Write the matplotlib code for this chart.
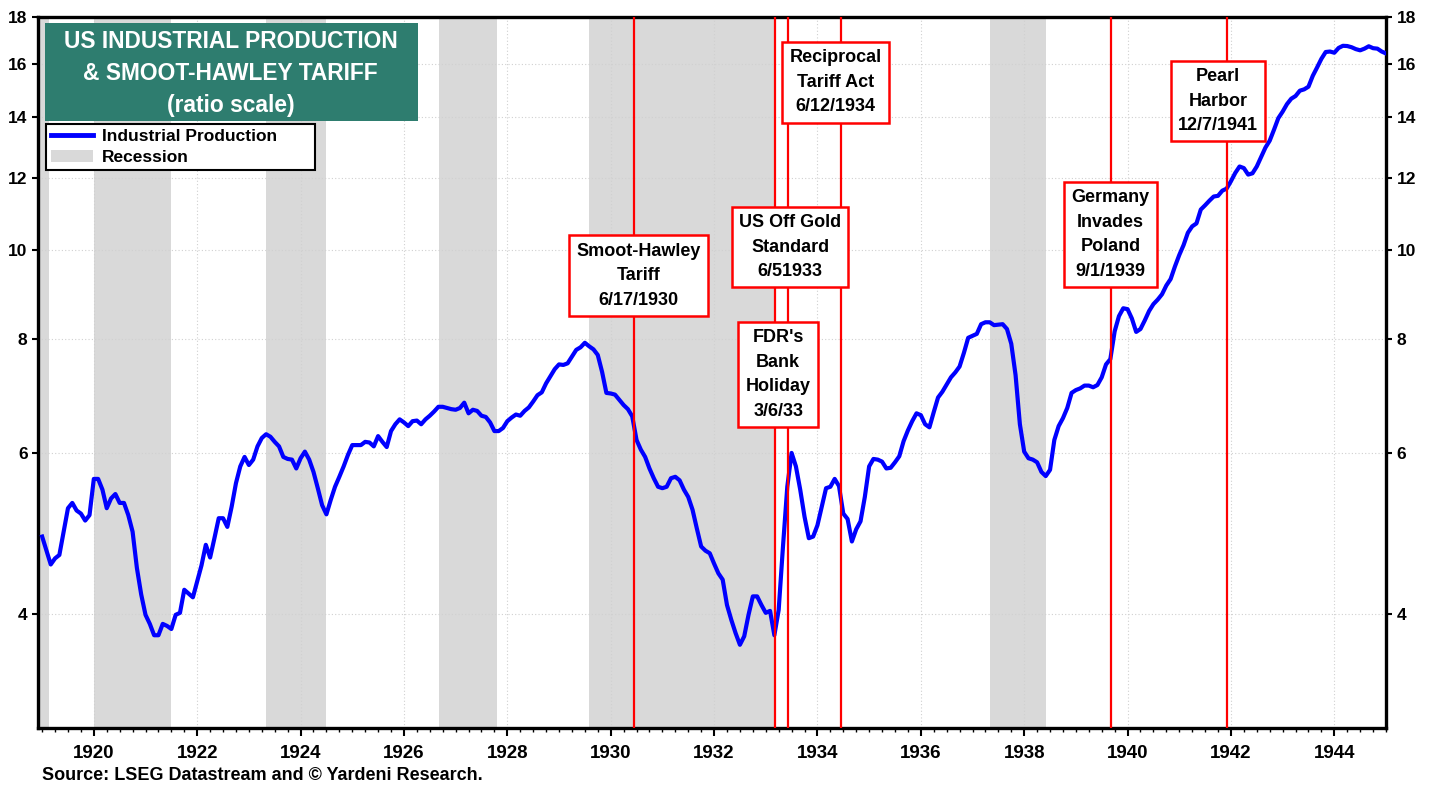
import numpy as np
import matplotlib
matplotlib.use("Agg")
import matplotlib.pyplot as plt
from matplotlib import font_manager
from matplotlib.ticker import FixedLocator, FuncFormatter, MultipleLocator, NullLocator
from matplotlib.patches import Patch, Rectangle
from matplotlib.lines import Line2D

# US industrial production index, monthly from Jan 1919 (one row per year)
ip_values = [
    4.86, 4.69, 4.53, 4.60, 4.64, 4.92, 5.22, 5.29, 5.19, 5.15, 5.06, 5.13,  # 1919
    5.62, 5.62, 5.47, 5.22, 5.35, 5.41, 5.29, 5.29, 5.13, 4.92, 4.49, 4.20,  # 1920
    3.99, 3.90, 3.79, 3.79, 3.90, 3.88, 3.85, 3.99, 4.01, 4.25, 4.21, 4.17,  # 1921
    4.34, 4.52, 4.76, 4.61, 4.84, 5.09, 5.09, 4.98, 5.24, 5.56, 5.80, 5.94,  # 1922
    5.82, 5.90, 6.10, 6.23, 6.29, 6.25, 6.17, 6.10, 5.94, 5.91, 5.90, 5.77,  # 1923
    5.92, 6.02, 5.90, 5.72, 5.49, 5.26, 5.14, 5.33, 5.51, 5.65, 5.80, 5.97,  # 1924
    6.12, 6.12, 6.12, 6.17, 6.16, 6.10, 6.26, 6.17, 6.09, 6.34, 6.45, 6.53,  # 1925
    6.48, 6.42, 6.50, 6.51, 6.45, 6.53, 6.59, 6.66, 6.74, 6.74, 6.72, 6.70,  # 1926
    6.69, 6.72, 6.81, 6.63, 6.69, 6.67, 6.59, 6.57, 6.48, 6.34, 6.34, 6.39,  # 1927
    6.50, 6.56, 6.61, 6.59, 6.67, 6.73, 6.83, 6.94, 6.99, 7.15, 7.28, 7.41,  # 1928
    7.50, 7.49, 7.52, 7.65, 7.78, 7.83, 7.92, 7.85, 7.79, 7.68, 7.36, 6.98,  # 1929
    6.97, 6.95, 6.86, 6.77, 6.70, 6.58, 6.20, 6.05, 5.94, 5.77, 5.63, 5.51,  # 1930
    5.49, 5.51, 5.63, 5.65, 5.60, 5.47, 5.37, 5.20, 4.96, 4.74, 4.69, 4.66,  # 1931
    4.54, 4.43, 4.36, 4.09, 3.94, 3.81, 3.70, 3.78, 3.99, 4.18, 4.18, 4.09,  # 1932
    4.01, 4.03, 3.79, 4.04, 4.74, 5.51, 6.00, 5.80, 5.47, 5.11, 4.84, 4.86,  # 1933
    5.00, 5.24, 5.49, 5.51, 5.62, 5.52, 5.15, 5.08, 4.80, 4.95, 5.05, 5.37,  # 1934
    5.80, 5.91, 5.90, 5.87, 5.77, 5.78, 5.86, 5.95, 6.18, 6.35, 6.50, 6.63,  # 1935
    6.60, 6.45, 6.40, 6.65, 6.90, 7.00, 7.13, 7.26, 7.35, 7.46, 7.72, 8.02,  # 1936
    8.06, 8.10, 8.30, 8.34, 8.34, 8.28, 8.29, 8.30, 8.20, 7.90, 7.30, 6.45,  # 1937
    6.02, 5.92, 5.90, 5.86, 5.72, 5.66, 5.75, 6.20, 6.42, 6.55, 6.72, 6.98,  # 1938
    7.03, 7.06, 7.11, 7.11, 7.08, 7.12, 7.26, 7.50, 7.60, 8.15, 8.47, 8.64,  # 1939
    8.62, 8.42, 8.14, 8.20, 8.38, 8.58, 8.73, 8.83, 8.95, 9.15, 9.30, 9.60,  # 1940
    9.88, 10.13, 10.45, 10.62, 10.70, 11.08, 11.20, 11.33, 11.45, 11.47, 11.62, 11.68,  # 1941
    11.90, 12.15, 12.35, 12.30, 12.10, 12.14, 12.35, 12.65, 12.95, 13.18, 13.55, 13.95,  # 1942
    14.18, 14.45, 14.65, 14.75, 14.95, 15.00, 15.10, 15.52, 15.85, 16.20, 16.48, 16.50,  # 1943
    16.45, 16.65, 16.74, 16.73, 16.68, 16.60, 16.55, 16.62, 16.72, 16.64, 16.62, 16.50,  # 1944
    16.42,  # 1945
]
start_year = 1919

# NBER recessions (decimal years)
rec_start = [1918.67, 1920.0, 1923.33, 1926.67, 1929.58, 1937.33]
rec_end = [1919.13, 1921.5, 1924.5, 1927.8, 1933.17, 1938.42]

# events: date of red line, box text, box centre
event_dates = [1930.46, 1933.18, 1933.43, 1934.45, 1939.67, 1941.93]
event_labels = ["Smoot-Hawley\nTariff\n6/17/1930",
                "FDR's\nBank\nHoliday\n3/6/33",
                "US Off Gold\nStandard\n6/51933",
                "Reciprocal\nTariff Act\n6/12/1934",
                "Germany\nInvades\nPoland\n9/1/1939",
                "Pearl\nHarbor\n12/7/1941"]
label_x = [1930.54, 1933.24, 1933.47, 1934.35, 1939.67, 1941.75]
label_y = [9.38, 7.31, 10.08, 15.27, 10.40, 14.56]

y_ticks = [4, 6, 8, 10, 12, 14, 16, 18]

available = set(f.name for f in font_manager.fontManager.ttflist)
base_font = "Liberation Sans" if "Liberation Sans" in available else "DejaVu Sans"
plt.rcParams["font.family"] = base_font

t = start_year + np.arange(len(ip_values)) / 12.0

fig = plt.figure(figsize=(14.39, 7.87), dpi=100)
ax = fig.add_axes([38 / 1439, 1 - 728 / 787, 1348 / 1439, 711 / 787])

for s, e in zip(rec_start, rec_end):
    ax.axvspan(s, e, color="#d9d9d9", lw=0, zorder=0)

ax.plot(t, ip_values, color="#0000ff", lw=3.0, zorder=3, solid_joinstyle="round")

for d in event_dates:
    ax.axvline(d, color="#ff0000", lw=1.6, zorder=4)

for x, y, txt in zip(label_x, label_y, event_labels):
    ax.text(x, y, txt, ha="center", va="center", fontsize=13, fontweight="bold",
            linespacing=1.58, zorder=6,
            bbox=dict(boxstyle="square,pad=0.4", fc="white", ec="#ff0000", lw=1.8))

ax.set_yscale("log")
ax.set_ylim(3, 18)
ax.set_xlim(1918.92, 1945.0)
ax.yaxis.set_major_locator(FixedLocator(y_ticks))
ax.yaxis.set_major_formatter(FuncFormatter(lambda v, p: "%d" % v))
ax.yaxis.set_minor_locator(NullLocator())
ax.xaxis.set_major_locator(MultipleLocator(2))
ax.xaxis.set_minor_locator(MultipleLocator(0.25))
ax.xaxis.set_major_formatter(FuncFormatter(lambda v, p: "%d" % round(v)))

ax.set_axisbelow(True)
ax.grid(True, which="major", color="#d0d0d0", ls=(0, (1, 2)), lw=0.8)

for sp in ax.spines.values():
    sp.set_linewidth(2.4)
    sp.set_color("black")

ax.tick_params(axis="y", which="major", direction="out", length=4.5, width=1.5,
               left=True, right=True, labelleft=True, labelright=True, labelsize=12.5, pad=3)
ax.tick_params(axis="x", which="major", direction="out", length=6, width=1.5,
               labelsize=13.5, pad=6)
ax.tick_params(axis="x", which="minor", direction="out", length=3, width=1.0)
for lab in ax.get_yticklabels() + ax.get_xticklabels():
    lab.set_fontweight("bold")

# title box
ax.add_patch(Rectangle((0.005, 0.854), 0.277, 0.138, transform=ax.transAxes,
                       fc="#2e7d6f", ec="none", zorder=7))
ax.text(0.143, 0.921, "US INDUSTRIAL PRODUCTION\n& SMOOT-HAWLEY TARIFF\n(ratio scale)",
        transform=ax.transAxes, ha="center", va="center", color="white",
        fontsize=16.4, fontweight="bold", linespacing=1.5, zorder=8)

handles = [Line2D([], [], color="#0000ff", lw=3.5), Patch(fc="#d9d9d9", ec="none")]
leg = ax.legend(handles, ["Industrial Production", "Recession"], loc="upper left",
                bbox_to_anchor=(0.006, 0.8495, 0.1995, 0), mode="expand",
                prop={"weight": "bold", "size": 12.5}, frameon=True, fancybox=False,
                borderaxespad=0, borderpad=0.3, labelspacing=0.3,
                handlelength=2.4, handletextpad=0.5)
leg.get_frame().set_edgecolor("black")
leg.get_frame().set_linewidth(1.5)
leg.get_frame().set_alpha(1)
leg.set_zorder(8)

fig.text(42 / 1439, 1 - 776 / 787, "Source: LSEG Datastream and \u00a9 Yardeni Research.",
         fontsize=13, fontweight="bold", va="center", ha="left")

fig.savefig("out.png", dpi=100)
